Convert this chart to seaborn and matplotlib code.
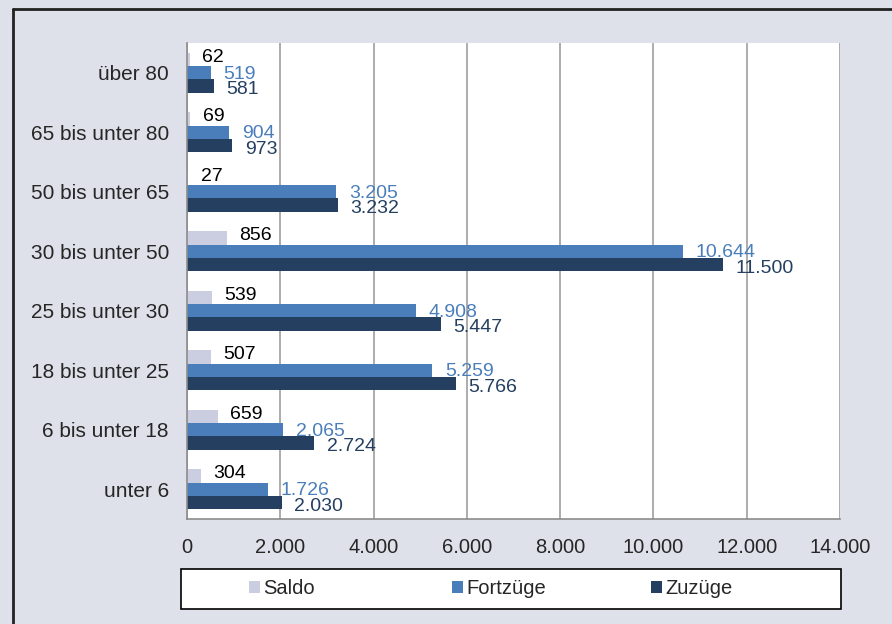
import matplotlib
matplotlib.use("Agg")
import matplotlib.pyplot as plt
import seaborn as sns
import pandas as pd
import numpy as np
from matplotlib.patches import Rectangle, Patch
from matplotlib.lines import Line2D
from matplotlib.ticker import FuncFormatter, FixedLocator

categories = ["über 80", "65 bis unter 80", "50 bis unter 65", "30 bis unter 50",
              "25 bis unter 30", "18 bis unter 25", "6 bis unter 18", "unter 6"]
saldo = [62, 69, 27, 856, 539, 507, 659, 304]
fortzuege = [519, 904, 3205, 10644, 4908, 5259, 2065, 1726]
zuzuege = [581, 973, 3232, 11500, 5447, 5766, 2724, 2030]
series = ["Saldo", "Fortzüge", "Zuzüge"]
colors = {"Saldo": "#cbcde1", "Fortzüge": "#4a7ebb", "Zuzüge": "#243f60"}
label_colors = {"Saldo": "#000000", "Fortzüge": "#4a7ebb", "Zuzüge": "#243f60"}
label_dy = {"Saldo": 1.3, "Fortzüge": -1.0, "Zuzüge": -2.6}

df = pd.DataFrame({
    "Altersgruppe": categories * 3,
    "Wert": saldo + fortzuege + zuzuege,
    "Reihe": [s for s in series for _ in categories],
})

sns.set_style("white")
plt.rcParams["font.family"] = ["Liberation Sans", "DejaVu Sans"]

BG = "#dee1ea"
fig = plt.figure(figsize=(8.92, 6.24), dpi=100, facecolor=BG)
W, H = 892, 624
ax = fig.add_axes([187 / W, 1 - 519 / H, (840 - 187) / W, (519 - 43) / H])
ax.set_facecolor("white")

sns.barplot(data=df, y="Altersgruppe", x="Wert", hue="Reihe", order=categories,
            hue_order=series, palette=colors, orient="h", width=0.68,
            ax=ax, legend=False, saturation=1, edgecolor="none")

ax.set_xlim(0, 14000)
ax.set_ylim(len(categories) - 0.5, -0.5)
ax.set_xticks(np.arange(0, 14001, 2000))
ax.xaxis.set_major_formatter(FuncFormatter(lambda v, p: f"{int(v):,}".replace(",", ".")))
ax.grid(axis="x", color="#a6a6a6", linewidth=1.3)
ax.set_axisbelow(True)
ax.set_xlabel("")
ax.set_ylabel("")
for s in ["top", "right"]:
    ax.spines[s].set_visible(False)
for s in ["left", "bottom"]:
    ax.spines[s].set_color("#8c8c8c")
    ax.spines[s].set_linewidth(1.2)
ax.tick_params(axis="x", length=5, width=1.2, color="#8c8c8c", labelsize=14.5, pad=9)
ax.tick_params(axis="y", which="major", length=0, labelsize=15, pad=13)
ax.yaxis.set_minor_locator(FixedLocator(np.arange(-0.5, len(categories), 1)))
ax.tick_params(axis="y", which="minor", length=5, width=1.2, color="#8c8c8c")

# data labels
def fmt(v):
    return f"{int(v):,}".replace(",", ".")

for cont, name in zip(ax.containers, series):
    for bar in cont:
        w = bar.get_width()
        yc = bar.get_y() + bar.get_height() / 2
        ax.annotate(fmt(w), xy=(w, yc), xytext=(9, label_dy[name]), textcoords="offset points",
                    ha="left", va="center", fontsize=14, color=label_colors[name])

# legend box
fig.patches.append(Rectangle((181 / W, 1 - 609 / H), (841 - 181) / W, 40 / H,
                             transform=fig.transFigure, facecolor="white",
                             edgecolor="black", linewidth=1.2, zorder=1))
legend_x = [249, 452, 651]
for s, lx in zip(series, legend_x):
    h = [Patch(facecolor=colors[s], edgecolor="none", label=s)]
    fig.legend(handles=h, loc="center left", bbox_to_anchor=(lx / W, 1 - 589 / H),
               frameon=False, fontsize=14.5, handlelength=0.55, handleheight=0.55,
               handletextpad=0.15, borderpad=0, borderaxespad=0)

# outer frame lines
fig.add_artist(Line2D([13 / W, 13 / W], [0, 1 - 9 / H], transform=fig.transFigure,
                      color="#222222", linewidth=2))
fig.add_artist(Line2D([13 / W, 1], [1 - 9 / H, 1 - 9 / H], transform=fig.transFigure,
                      color="#222222", linewidth=2))

fig.savefig("out.png", dpi=100, facecolor=BG)
